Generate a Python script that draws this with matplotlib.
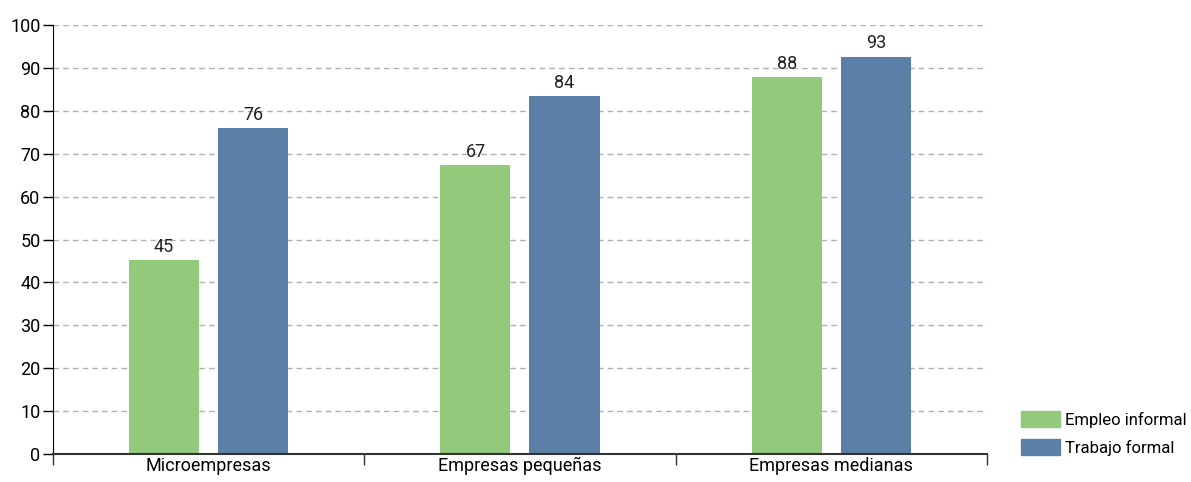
import numpy as np
import matplotlib.pyplot as plt
from matplotlib.patches import Patch

plt.rcParams['font.family'] = ['Roboto', 'DejaVu Sans']

# Data
categories = ['Microempresas', 'Empresas pequeñas', 'Empresas medianas']
empleo_informal = [45.2, 67.4, 87.9]
trabajo_formal = [75.9, 83.5, 92.6]
series_names = ['Empleo informal', 'Trabajo formal']

green = '#92c97a'
blue = '#5b7fa6'

fig = plt.figure(figsize=(11.91, 4.82), dpi=100)
ax = fig.add_axes([0.0445, 0.0581, 0.7842, 0.89])

x = np.arange(len(categories))
w = 0.225
off = 0.143
b1 = ax.bar(x - off, empleo_informal, w, color=green, zorder=3)
b2 = ax.bar(x + off, trabajo_formal, w, color=blue, zorder=3)

for bars, vals in [(b1, empleo_informal), (b2, trabajo_formal)]:
    for rect, v in zip(bars, vals):
        ax.text(rect.get_x() + rect.get_width() / 2, v + 1, f'{v:.0f}',
                ha='center', va='bottom', fontsize=13, color='#222222', zorder=4)

ax.set_xlim(-0.5, 2.5)
ax.set_ylim(0, 100)
ax.set_yticks(np.arange(0, 101, 10))
ax.tick_params(axis='y', labelsize=13, length=7, width=1, color='black', pad=2)

# category boundaries get ticks, labels sit in the middle
ax.set_xticks([-0.5, 0.5, 1.5, 2.5])
ax.set_xticklabels([])
ax.set_xticks(x, minor=True)
ax.set_xticklabels(categories, minor=True, fontsize=13)
ax.tick_params(axis='x', which='major', length=8, width=1, color='#333333')
ax.tick_params(axis='x', which='minor', length=0, pad=2)

for y in range(10, 101, 10):
    ax.axhline(y, color='#b0b0b0', linestyle=(0, (4, 3)), linewidth=1, zorder=1)

for s in ['top', 'right']:
    ax.spines[s].set_visible(False)
ax.spines['left'].set_color('black')
ax.spines['bottom'].set_color('#333333')
ax.spines['bottom'].set_linewidth(1.5)
ax.spines['bottom'].set_zorder(5)

handles = [Patch(color=green), Patch(color=blue)]
fig.legend(handles, series_names, loc='lower left', bbox_to_anchor=(0.852, 0.04),
           frameon=False, fontsize=12, handlelength=2.3, handleheight=1.1,
           handletextpad=0.3, labelspacing=0.7, borderaxespad=0)

fig.savefig('out.png', dpi=100)
